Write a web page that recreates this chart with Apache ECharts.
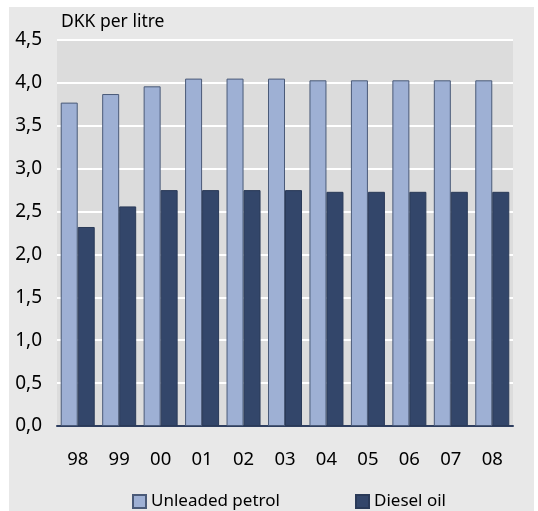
<!DOCTYPE html>
<html>
<head>
<meta charset="utf-8">
<script src="https://cdn.jsdelivr.net/npm/echarts@6/dist/echarts.min.js"></script>
<style>
  html, body { margin: 0; padding: 0; background: #fff; }
  #chart { width: 538px; height: 511px; }
</style>
</head>
<body>
<div id="chart"></div>
<script>
// years, 1998-2008
const years = ['98', '99', '00', '01', '02', '03', '04', '05', '06', '07', '08']
// DKK per litre
const unleadedPetrol = [3.77, 3.87, 3.96, 4.05, 4.05, 4.05, 4.03, 4.03, 4.03, 4.03, 4.03]
const dieselOil = [2.32, 2.56, 2.75, 2.75, 2.75, 2.75, 2.73, 2.73, 2.73, 2.73, 2.73]
const yTicks = { min: 0, max: 4.5, step: 0.5 }

const font = 'Noto Sans'
const chart = echarts.init(document.getElementById('chart'))

const option = {
  animation: false,
  textStyle: { fontFamily: font },
  graphic: [
    {
      type: 'rect',
      z: -10,
      shape: { x: 9, y: 7, width: 525, height: 504 },
      style: { fill: '#e8e8e8' }
    },
    {
      type: 'text',
      left: 61,
      top: 13,
      style: { text: 'DKK per litre', fontSize: 17.5, fill: '#000', fontFamily: font }
    }
  ],
  grid: {
    left: 57, right: 25, top: 40, bottom: 85,
    show: true, backgroundColor: '#dcdcdc', borderWidth: 0
  },
  legend: [
    {
      data: ['Unleaded petrol'], left: 127, top: 488,
      itemWidth: 13, itemHeight: 13, icon: 'rect',
      textStyle: { fontSize: 17, color: '#000', fontFamily: font }
    },
    {
      data: ['Diesel oil'], left: 350, top: 488,
      itemWidth: 13, itemHeight: 13, icon: 'rect',
      textStyle: { fontSize: 17, color: '#000', fontFamily: font }
    }
  ],
  xAxis: {
    type: 'category',
    data: years,
    axisLine: { lineStyle: { color: '#2f3f60', width: 2 } },
    axisTick: { show: false },
    axisLabel: { fontSize: 18.5, color: '#000', margin: 24 }
  },
  yAxis: {
    type: 'value',
    min: yTicks.min, max: yTicks.max, interval: yTicks.step,
    axisLine: { show: false },
    axisTick: { show: false },
    splitLine: { lineStyle: { color: '#ffffff', width: 2 } },
    axisLabel: {
      fontSize: 19, color: '#000', margin: 15,
      formatter: v => v.toFixed(1).replace('.', ',')
    }
  },
  series: [
    {
      name: 'Unleaded petrol',
      type: 'bar',
      data: unleadedPetrol,
      barWidth: 17,
      barGap: '0%',
      itemStyle: { color: '#9eb0d4', borderColor: '#4a5a78', borderWidth: 1 }
    },
    {
      name: 'Diesel oil',
      type: 'bar',
      data: dieselOil,
      barWidth: 17,
      itemStyle: { color: '#33466a', borderColor: '#2a3a58', borderWidth: 1 }
    }
  ]
}

chart.setOption(option)
</script>
</body>
</html>
